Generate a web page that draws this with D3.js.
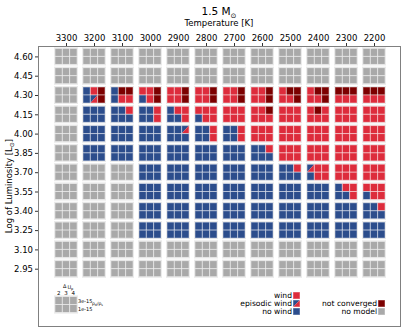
<!DOCTYPE html>
<html>
<head>
<meta charset="utf-8">
<script src="https://cdn.jsdelivr.net/npm/d3@7"></script>
<style>
	body { margin: 0; background: #fff; }
	text { font-family: "DejaVu Sans", sans-serif; fill: #000; }
</style>
</head>
<body>
<div id="chart"></div>
<script>
// temperatures (columns) and luminosities (rows)
var temps = [3300, 3200, 3100, 3000, 2900, 2800, 2700, 2600, 2500, 2400, 2300, 2200];
var lums = ["4.60", "4.45", "4.30", "4.15", "4.00", "3.85", "3.70", "3.55", "3.40", "3.25", "3.10", "2.95"];
var dUp = [2, 3, 4];
var rhoRatio = ["3e-15", "1e-15"];

// each cell: top row (3e-15) dUp 2,3,4 then bottom row (1e-15) dUp 2,3,4
// g = no model, b = no wind, r = wind, e = episodic wind, d = not converged
var row460 = ["gggggg","gggggg","gggggg","gggggg","gggggg","gggggg","gggggg","gggggg","gggggg","gggggg","gggggg","gggggg"];
var row445 = ["gggggg","gggggg","gggggg","gggggg","gggggg","gggggg","gggggg","gggggg","gggggg","gggggg","gggggg","gggggg"];
var row430 = ["gggggg","brdbed","bddbrr","rrdbrd","rrdrrd","rrdrrd","rrdrrd","rrdrrd","rddrrd","rddrrd","dddrrr","dddrrr"];
var row415 = ["gggggg","bbbbbb","bbrbbb","bbrbbr","brrbbr","rrrbrr","rrrrrr","rrdrrr","rrrrrr","rdrrrr","rrrrrr","rrrrrr"];
var row400 = ["gggggg","bbbbbb","bbbbbb","bbbbbb","bbebbb","bbrbbr","bbrbbr","rrrrrr","rrrrrr","rrrrrr","rrrrrr","rrrrrr"];
var row385 = ["gggggg","bbbbbb","bbbbbb","bbbbbb","bbbbbb","bbbbbb","bbbbbb","bbrbbb","rrrrrr","rrrrrr","rrrrrr","rrrrrr"];
var row370 = ["gggggg","gggggg","gggggg","bbbbbb","bbbbbb","bbbbbb","bbbbbb","bbbbbb","bbrbbb","errbrr","rrrrrr","rrrrrr"];
var row355 = ["gggggg","gggggg","gggggg","bbbbbb","bbbbbb","bbbbbb","bbbbbb","bbbbbb","bbbbbb","bbbbbb","brrbbr","rrrbrr"];
var row340 = ["gggggg","gggggg","gggggg","bbbbbb","bbbbbb","bbbbbb","bbbbbb","bbbbbb","bbbbbb","bbbbbb","bbbbbb","bbrbbb"];
var row325 = ["gggggg","gggggg","gggggg","bbbbbb","bbbbbb","bbbbbb","bbbbbb","bbbbbb","bbbbbb","bbbbbb","bbbbbb","bbbbbb"];
var row310 = ["gggggg","gggggg","gggggg","gggggg","gggggg","gggggg","gggggg","gggggg","gggggg","gggggg","gggggg","gggggg"];
var row295 = ["gggggg","gggggg","gggggg","gggggg","gggggg","gggggg","gggggg","gggggg","gggggg","gggggg","gggggg","gggggg"];

var rows = [row460, row445, row430, row415, row400, row385, row370, row355, row340, row325, row310, row295];

var legendRight = [["wind", "r"], ["episodic wind", "e"], ["no wind", "b"]];
var legendFar = [["not converged", "d"], ["no model", "g"]];

(function () {
	var W = 407, H = 332;
	var frame = {left: 38, right: 400, top: 46, bottom: 326};

	var colours = {g: "#a9a9a9", b: "#2c4d8c", r: "#dd2c3c", d: "#7c0000"};

	// point scales for cell centres
	var xScale = d3.scalePoint().domain(temps).range([66, 374]);
	var yScale = d3.scalePoint().domain(lums).range([56.4, 268.7]);

	var cellW = 22, cellH = 16;
	var subW = cellW / 3, subH = cellH / 2;

	var svg = d3.select("#chart").append("svg")
		.attr("width", W)
		.attr("height", H);

	// frame
	svg.append("rect")
		.attr("x", frame.left + 0.5)
		.attr("y", frame.top + 0.5)
		.attr("width", frame.right - frame.left)
		.attr("height", frame.bottom - frame.top)
		.attr("fill", "none")
		.attr("stroke", "#808080")
		.attr("stroke-width", 1);

	// draws one 3x2 cell centred at cx, cy
	function drawCell(g, cx, cy, code) {
		var x0 = cx - cellW / 2, y0 = cy - cellH / 2;
		g.append("rect")
			.attr("x", x0 - 0.5).attr("y", y0 - 0.5)
			.attr("width", cellW + 1).attr("height", cellH + 1)
			.attr("fill", "none")
			.attr("stroke", "#e6e6e6")
			.attr("stroke-width", 1);
		for (var k = 0; k < 6; k++) {
			var c = code[k];
			var sx = x0 + (k % 3) * subW, sy = y0 + Math.floor(k / 3) * subH;
			drawSquare(g, sx, sy, subW, subH, c);
		}
	}

	function drawSquare(g, sx, sy, w, h, c) {
		if (c === "e") {
			// episodic: upper-left blue, lower-right red
			g.append("path")
				.attr("d", "M" + sx + "," + sy + "h" + w + "L" + sx + "," + (sy + h) + "Z")
				.attr("fill", colours.b);
			g.append("path")
				.attr("d", "M" + (sx + w) + "," + sy + "V" + (sy + h) + "H" + sx + "Z")
				.attr("fill", colours.r);
			g.append("rect")
				.attr("x", sx).attr("y", sy).attr("width", w).attr("height", h)
				.attr("fill", "none")
				.attr("stroke", "#fff").attr("stroke-opacity", 0.45).attr("stroke-width", 1);
		} else {
			g.append("rect")
				.attr("x", sx).attr("y", sy).attr("width", w).attr("height", h)
				.attr("fill", colours[c])
				.attr("stroke", "#fff").attr("stroke-opacity", 0.45).attr("stroke-width", 1);
		}
	}

	var grid = svg.append("g");
	rows.forEach(function (row, i) {
		row.forEach(function (code, j) {
			drawCell(grid, xScale(temps[j]), yScale(lums[i]), code);
		});
	});

	// axes
	var xAxis = svg.append("g")
		.attr("transform", "translate(0," + frame.top + ")")
		.call(d3.axisTop(xScale).tickSize(3).tickPadding(2));
	var yAxis = svg.append("g")
		.attr("transform", "translate(" + frame.left + ",0)")
		.call(d3.axisLeft(yScale).tickSize(3).tickPadding(2));
	[xAxis, yAxis].forEach(function (a) {
		a.select(".domain").remove();
		a.selectAll("line").attr("stroke", "#000").attr("stroke-width", 0.8);
		a.selectAll("text")
			.style("font-family", "DejaVu Sans")
			.style("font-size", "8.5px")
			.attr("fill", "#000");
	});

	// titles
	var title = svg.append("text")
		.attr("x", 219).attr("y", 15)
		.attr("text-anchor", "middle")
		.style("font-size", "10.5px");
	title.append("tspan").text("1.5 M");
	title.append("tspan").attr("dy", 2.5).style("font-size", "7px").text("\u2299");

	svg.append("text")
		.attr("x", 219).attr("y", 26)
		.attr("text-anchor", "middle")
		.style("font-size", "8.5px")
		.text("Temperature [K]");

	var ylab = svg.append("text")
		.attr("transform", "translate(12,186) rotate(-90)")
		.attr("text-anchor", "middle")
		.style("font-size", "8.5px");
	ylab.append("tspan").text("Log of Luminosity [L");
	ylab.append("tspan").attr("dy", 1.5).style("font-size", "6px").text("\u2299");
	ylab.append("tspan").attr("dy", -1.5).text("]");

	// mini key bottom left
	var key = svg.append("g");
	var kx = 66, ky = 304.5;
	drawCell(key, kx, ky, "gggggg");
	dUp.forEach(function (d, i) {
		key.append("text")
			.attr("x", kx - cellW / 2 + subW * (i + 0.5))
			.attr("y", ky - cellH / 2 - 2)
			.attr("text-anchor", "middle")
			.style("font-size", "5.5px")
			.text(d);
	});
	var kdu = key.append("text")
		.attr("x", kx - 3).attr("y", ky - cellH / 2 - 9)
		.style("font-size", "5px");
	kdu.append("tspan").text("\u0394");
	kdu.append("tspan").attr("dx", 1).attr("dy", 1.5).text("U");
	kdu.append("tspan").attr("dy", 1).style("font-size", "3.5px").text("p");
	rhoRatio.forEach(function (d, i) {
		key.append("text")
			.attr("x", kx + cellW / 2 + 1)
			.attr("y", ky - cellH / 2 + subH * (i + 0.5) + 2)
			.style("font-size", "5px")
			.text(d);
	});
	var krho = key.append("text")
		.attr("x", kx + cellW / 2 + 15).attr("y", ky + 0.5)
		.style("font-size", "4.5px");
	krho.append("tspan").text("\u03c1");
	krho.append("tspan").attr("dy", 1).style("font-size", "3.2px").text("d");
	krho.append("tspan").attr("dy", -1).text("/\u03c1");
	krho.append("tspan").attr("dy", 1).style("font-size", "3.2px").text("s");

	// legends
	function legend(items, sqX, y0) {
		var g = svg.append("g");
		items.forEach(function (it, i) {
			var yy = y0 + i * 8;
			drawSquare(g, sqX, yy, 7, 7, it[1]);
			g.append("text")
				.attr("x", sqX - 1).attr("y", yy + 6.3)
				.attr("text-anchor", "end")
				.style("font-size", "7.6px")
				.text(it[0]);
		});
	}
	legend(legendRight, 293, 292);
	legend(legendFar, 378, 300);
})();
</script>
</body>
</html>
